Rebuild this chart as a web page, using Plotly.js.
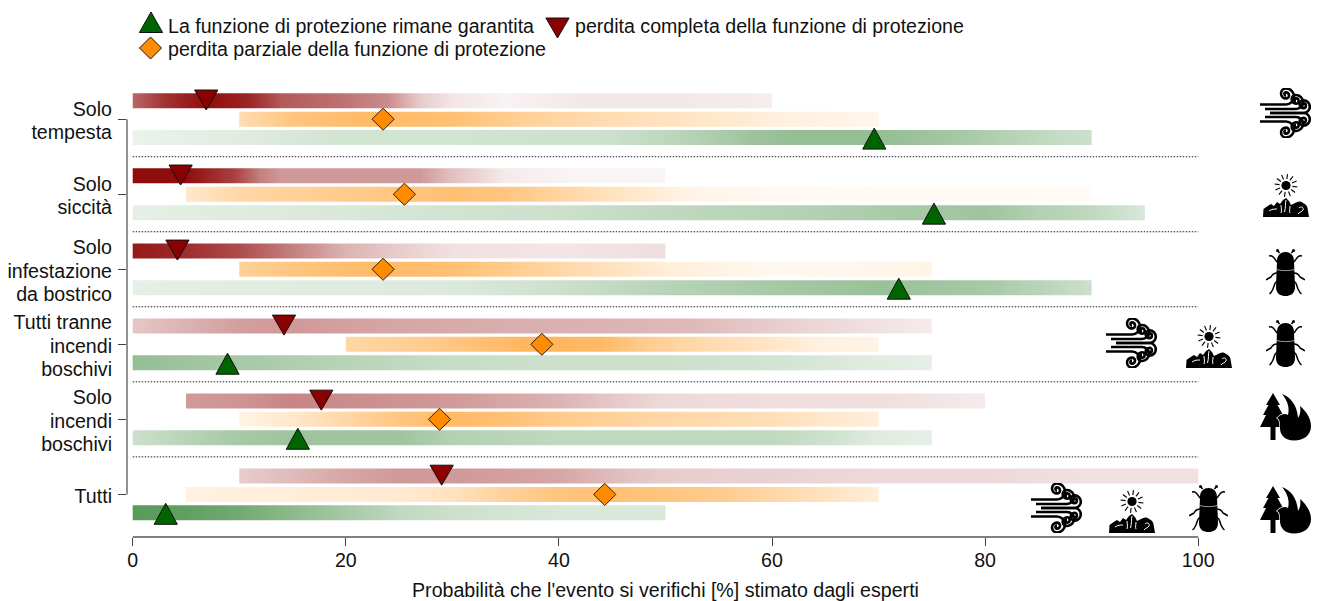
<!DOCTYPE html>
<html>
<head>
<meta charset="utf-8">
<script src="https://cdn.plot.ly/plotly-3.0.1.min.js"></script>
<style>html,body{margin:0;padding:0;background:#fff}</style>
</head>
<body>
<div id="chart" style="width:1318px;height:601px"></div>
<script>
// ---- data, top to bottom ----
const groupLabels = ['Solo<br>tempesta', 'Solo<br>siccità', 'Solo<br>infestazione<br>da bostrico',
  'Tutti tranne<br>incendi<br>boschivi', 'Solo<br>incendi<br>boschivi', 'Tutti'];
const xTicks = [0, 20, 40, 60, 80, 100];
const legendLabels = ['La funzione di protezione rimane garantita', 'perdita completa della funzione di protezione', 'perdita parziale della funzione di protezione'];
const xTitle = "Probabilità che l'evento si verifichi [%] stimato dagli esperti";

const lossMedian = [6.9, 4.5, 4.2, 14.2, 17.7, 29];
const partialMedian = [23.5, 25.5, 23.5, 38.4, 28.8, 44.3];
const keptMedian = [69.6, 75.2, 71.9, 8.9, 15.5, 3.1];

// density along each range: position on the axis
const lossX = [
  [0, 3, 7, 11, 14, 20, 24, 27, 30, 35, 43, 50, 60],
  [0, 5, 9.5, 12, 14, 27, 30, 35, 42, 50],
  [0, 4, 10, 15, 20, 25, 30, 40, 50],
  [0, 5, 10, 15, 25, 35, 45, 53, 62, 72, 75],
  [5, 10, 15, 20, 30, 35, 40, 46, 50, 60, 70, 80],
  [10, 15, 20, 25, 30, 35, 40, 46, 50, 60, 70, 80, 90, 100]];
// and how strongly it shows there
const lossD = [
  [.6, .8, .95, .85, .65, .55, .45, .2, .1, .05, .1, .1, .07],
  [.95, .95, .75, .5, .4, .4, .25, .08, .04, .04],
  [.9, .85, .7, .5, .3, .2, .12, .1, .13],
  [.22, .3, .38, .4, .35, .32, .3, .27, .18, .1, .08],
  [.4, .42, .48, .45, .4, .35, .3, .2, .15, .13, .13, .08],
  [.2, .27, .35, .4, .4, .38, .35, .25, .2, .18, .15, .15, .12, .12]];
const partialX = [
  [10, 15, 22, 30, 37, 45, 55, 62, 70],
  [5, 10, 20, 30, 35, 45, 52, 60, 90],
  [10, 15, 23, 30, 40, 50, 60, 70, 75],
  [20, 28, 33, 38, 44, 48, 52, 58, 65, 70],
  [10, 15, 20, 25, 30, 35, 40, 50, 60, 65, 70],
  [5, 15, 25, 30, 35, 40, 45, 50, 55, 60, 65, 70]];
const partialD = [
  [.3, .5, .6, .55, .4, .3, .2, .12, .08],
  [.2, .35, .45, .55, .5, .25, .1, .05, .04],
  [.4, .5, .6, .55, .35, .15, .06, .08, .1],
  [.35, .45, .55, .65, .6, .45, .35, .25, .12, .1],
  [.1, .2, .35, .5, .6, .55, .45, .35, .28, .2, .15],
  [.12, .15, .18, .25, .4, .5, .55, .5, .45, .35, .25, .15]];
const keptX = [
  [0, 10, 20, 30, 45, 52, 58, 62, 70, 78, 85, 90],
  [0, 20, 30, 40, 50, 60, 70, 80, 85, 90, 95],
  [0, 30, 40, 50, 60, 70, 80, 87, 90],
  [0, 5, 10, 20, 30, 40, 50, 60, 70, 75],
  [0, 5, 10, 15, 20, 25, 30, 40, 50, 60, 65, 70, 75],
  [0, 5, 10, 15, 20, 25, 30, 40, 50]];
const keptD = [
  [.08, .12, .18, .18, .2, .28, .38, .42, .42, .35, .25, .2],
  [.1, .15, .18, .2, .25, .28, .33, .38, .3, .25, .15],
  [.1, .14, .2, .28, .35, .4, .35, .25, .2],
  [.42, .38, .35, .28, .22, .2, .2, .18, .12, .1],
  [.2, .28, .35, .38, .38, .38, .3, .25, .25, .25, .2, .12, .1],
  [.65, .62, .55, .45, .35, .25, .2, .15, .15]];

// ---- layout constants (pixels in the 1318x601 page) ----
const W = 1318, H = 601;
const X0PX = 132.7, PX_PER_X = 10.655, PLOT_RIGHT = 1204, AXIS_Y = 537, TOP = 85, Y_AXIS_PX = 127;
const ROW1PX = 119.2, ROW6PX = 494.4, LINE_PX = 23.5, LABEL_NUDGE_PX = 1.5;
const pxPerX = PX_PER_X;
const pxPerY = (ROW6PX - ROW1PX) / 5;
const mL = Y_AXIS_PX, mR = W - PLOT_RIGHT, mB = H - AXIS_Y, mT = TOP;
const plotW = W - mL - mR, plotH = H - mT - mB;
const yOf = i => 6 - i;                       // row index -> axis position
const OFFSET = 18.4 / pxPerY, BAR_H = 15 / pxPerY;
const COLORS = {loss: '139,0,0', partial: '255,140,0', kept: '0,100,0'};
const SOLID = {loss: '#8b0000', partial: '#ff8c00', kept: '#006400'};
const TEXT = 'Liberation Sans, Arial, sans-serif';
const FS = 19.6;

const paperX = px => (px - mL) / plotW;
const paperY = py => (H - mB - py) / plotH;

// ---- gradient bars ----
function bar(xs, ds, yc, rgb) {
  const a = xs[0], b = xs[xs.length - 1];
  return {
    type: 'scatter', mode: 'none', fill: 'toself', hoverinfo: 'skip',
    x: [a, b, b, a, a],
    y: [yc - BAR_H / 2, yc - BAR_H / 2, yc + BAR_H / 2, yc + BAR_H / 2, yc - BAR_H / 2],
    fillgradient: {
      type: 'horizontal', start: a, stop: b,
      colorscale: xs.map((x, k) => [(x - a) / (b - a), 'rgba(' + rgb + ',' + ds[k] + ')'])
    }
  };
}
const traces = [];
groupLabels.forEach((_, i) => {
  traces.push(bar(lossX[i], lossD[i], yOf(i) + OFFSET, COLORS.loss));
  traces.push(bar(partialX[i], partialD[i], yOf(i), COLORS.partial));
  traces.push(bar(keptX[i], keptD[i], yOf(i) - OFFSET, COLORS.kept));
});

// ---- median markers: R-style equilateral triangles, sized in px around the data value ----
function triangles(meds, dir, rowOffset, rgbSolid) {
  const xs = [], ys = [], hw = 11.6 / pxPerX;
  meds.forEach((m, i) => {
    const yc = yOf(i) + rowOffset;
    const base = dir > 0 ? yc - 11.5 / pxPerY : yc + 10.8 / pxPerY;
    const apex = dir > 0 ? yc + 9.5 / pxPerY : yc - 9.2 / pxPerY;
    xs.push(m - hw, m + hw, m, m - hw, null);
    ys.push(base, base, apex, base, null);
  });
  return {type: 'scatter', mode: 'lines', fill: 'toself', fillcolor: rgbSolid, hoverinfo: 'skip',
    line: {color: '#111', width: 1}, x: xs, y: ys};
}
traces.push(triangles(lossMedian, -1, OFFSET, SOLID.loss));
traces.push(triangles(keptMedian, 1, -OFFSET, SOLID.kept));
traces.push({type: 'scatter', mode: 'markers', hoverinfo: 'skip',
  x: partialMedian, y: groupLabels.map((_, i) => yOf(i)),
  marker: {symbol: 'diamond', size: 17, color: SOLID.partial, line: {color: '#222', width: 1}}});

// ---- shapes: axis lines, separators, legend glyphs ----
const shapes = [];
[5.5, 4.5, 3.5, 2.5, 1.5].forEach(y => shapes.push({type: 'line', xref: 'x', yref: 'y', x0: 0, x1: 100, y0: y, y1: y,
  line: {color: '#222', width: 1, dash: '1.5px,1.5px'}, layer: 'below'}));
shapes.push({type: 'line', xref: 'x', yref: 'paper', x0: 0, x1: 100, y0: 0, y1: 0, line: {color: '#808080', width: 2}});
shapes.push({type: 'line', xref: 'paper', yref: 'y', x0: 0, x1: 0, y0: 1, y1: 6, line: {color: '#6e6e6e', width: 1.5}});
function legendGlyph(px, py, path, fill) {
  shapes.push({type: 'path', xref: 'paper', yref: 'paper', xsizemode: 'pixel', ysizemode: 'pixel',
    xanchor: paperX(px), yanchor: paperY(py), path, fillcolor: fill, line: {color: '#111', width: 1}});
}
// pixel-sized shape paths count y upward
legendGlyph(151, 22, 'M-11.6,-10.5 H11.6 L0,10 Z', SOLID.kept);
legendGlyph(557.5, 28, 'M-11.6,10 H11.6 L0,-10 Z', SOLID.loss);
legendGlyph(150.5, 48, 'M-11,0 L0,-11 L11,0 L0,11 Z', SOLID.partial);

// ---- annotations: manual legend text ----
const annotations = [[167, 26, 0], [574, 26, 1], [167, 49.5, 2]].map(([px, py, k]) => ({
  xref: 'paper', yref: 'paper', x: paperX(px), y: paperY(py), xanchor: 'left', yanchor: 'middle',
  text: legendLabels[k], showarrow: false, font: {family: TEXT, size: FS, color: '#111'}, xshift: 0, borderpad: 0, align: 'left'
}));

// ---- pictograms ----
function curl(x, y, r, up) {
  const s = up ? -1 : 1, sw = up ? 0 : 1;
  let d = '', yy = y, rr = r, dir = s;
  for (const k of [1, .62, .38, .2]) {
    rr = r * k; yy += dir * 2 * rr;
    d += ' A' + rr + ',' + rr + ' 0 0 ' + sw + ' ' + x + ',' + yy;
    dir = -dir;
  }
  return d;
}
const svgWrap = (w, h, body) => 'data:image/svg+xml;charset=utf-8,' + encodeURIComponent(
  '<svg xmlns="http://www.w3.org/2000/svg" width="' + w + '" height="' + h + '" viewBox="0 0 ' + w + ' ' + h + '">' + body + '</svg>');

const windSvg = svgWrap(51, 50, '<g fill="none" stroke="#000" stroke-width="2.6">' +
  '<path d="M0,16.5 H26' + curl(26, 16.5, 8, true) + '"/>' +
  '<path d="M5,21 H36' + curl(36, 21, 7, true) + '"/>' +
  '<path d="M10,25 H43.5' + curl(43.5, 25, 6.3, true) + '"/>' +
  '<path d="M10,25 H43.5' + curl(43.5, 25, 6.3, false) + '"/>' +
  '<path d="M5,29 H36' + curl(36, 29, 7, false) + '"/>' +
  '<path d="M0,33.5 H26' + curl(26, 33.5, 8, false) + '"/></g>');

let rays = '';
for (let a = 0; a < 12; a++) {
  const t = a * Math.PI / 6 + .13;
  rays += '<line x1="' + (23 + 6.5 * Math.cos(t)) + '" y1="' + (11.5 + 6.5 * Math.sin(t)) + '" x2="' + (23 + 11.5 * Math.cos(t)) + '" y2="' + (11.5 + 11.5 * Math.sin(t)) + '"/>';
}
const droughtSvg = svgWrap(46, 43, '<circle cx="23" cy="11.5" r="4.6" fill="#000"/><g stroke="#000" stroke-width="1.1">' + rays + '</g>' +
  '<path fill="#000" d="M0,43 L0.5,35 C3,33 5,32 8,30 L11,32 L14,28 L17,30 L20,26 L23,24 L26,27 L28,31 L32,29 C35,27 38,27 40,29 C43,30 44,32 44.5,34 L46,43 Z"/>' +
  '<g fill="none" stroke="#fff" stroke-width="1"><path d="M23,26 C22,30 23,33 21.5,38"/><path d="M18,31 C18,34 19,36 18,39"/><path d="M27,32 C27,35 26,37 27,39"/><path d="M6,37 C9,35 11,35 14,35"/><path d="M36,34 C38,32 41,33 40,36 C39,38 36,38 35,40"/></g>');

const beetleSvg = svgWrap(39, 47, '<path fill="#000" d="M11,12 C11,6 15,3 19.5,3 C24,3 28,6 28,12 L29,38 C29,45 24,47 19.5,47 C15,47 10,45 10,38 Z"/>' +
  '<path d="M10.5,20.5 C15,22 24,22 28.5,20.5" stroke="#fff" stroke-width=".6" fill="none"/>' +
  '<g fill="none" stroke="#000" stroke-width="1.5">' +
  '<path d="M11,13 C8,9 7,6 3,7"/><path d="M28,13 C31,9 32,6 36,7"/>' +
  '<path d="M11,24 C8,24 6,26 5,28 C3,29 1,30 0,31"/><path d="M28,24 C31,24 33,26 34,28 C36,29 38,30 39,31"/>' +
  '<path d="M11,32 C8,34 8,38 7,40 C6,42 5,44 3.5,45"/><path d="M28,32 C31,34 31,38 32,40 C33,42 34,44 35.5,45"/>' +
  '<path d="M13.5,4 L12,2"/><path d="M25.5,4 L27,2"/></g>' +
  '<circle cx="11.5" cy="1.6" r="1.5" fill="#000"/><circle cx="27.5" cy="1.6" r="1.5" fill="#000"/>');

const fireSvg = svgWrap(51, 48, '<path fill="#000" d="M13,0 L20,12 L17.5,12 L23,22 L20,22 L26,34 L15.5,34 L15.5,47 L10.5,47 L10.5,34 L0,34 L6,22 L3,22 L8.5,12 L6,12 Z"/>' +
  '<path fill="#000" stroke="#fff" stroke-width="1.2" paint-order="stroke" d="M22,1 C30,4 37,11 38,25 C40,22 41,18 40,13 C47,19 51,26 51,33 C51,42 44,47.5 34,47.5 C25,47.5 20,42 20,35 C20,30 20,26 17,25 C21,21 25,20 28,22 C30,14 27,7 22,1 Z"/>');

const icons = [
  [windSvg, 51, 50, 1260, 88],
  [droughtSvg, 46, 43, 1263, 174],
  [beetleSvg, 39, 47, 1266, 249],
  [windSvg, 51, 50, 1106, 318],
  [droughtSvg, 46, 43, 1186, 325],
  [beetleSvg, 39, 47, 1266, 320],
  [fireSvg, 51, 48, 1260, 393],
  [windSvg, 51, 50, 1031, 483],
  [droughtSvg, 46, 43, 1109, 490],
  [beetleSvg, 39, 47, 1189, 485],
  [fireSvg, 51, 48, 1260, 486]
];
const images = icons.map(([source, w, h, px, py]) => ({
  source, xref: 'paper', yref: 'paper', x: paperX(px), y: paperY(py),
  sizex: w / plotW, sizey: h / plotH, xanchor: 'left', yanchor: 'top', sizing: 'stretch', layer: 'above'
}));

// ---- y labels: each line is its own tick label so the line spacing can match ----
const labelVals = [], labelText = [];
groupLabels.forEach((g, i) => {
  const lines = g.split('<br>');
  lines.forEach((t, k) => {
    labelVals.push(yOf(i) + (((lines.length - 1) / 2 - k) * LINE_PX - LABEL_NUDGE_PX) / pxPerY);
    labelText.push(t);
  });
});

// ---- layout ----
const layout = {
  width: W, height: H, paper_bgcolor: '#fff', plot_bgcolor: '#fff', showlegend: false, hovermode: false,
  margin: {l: mL, r: mR, t: mT, b: mB, pad: 0},
  xaxis: {
    range: [(Y_AXIS_PX - X0PX) / pxPerX, (PLOT_RIGHT - X0PX) / pxPerX], showgrid: false, zeroline: false, showline: false,
    tickmode: 'array', tickvals: xTicks, ticktext: xTicks.map(String), ticks: 'outside', ticklen: 8, tickwidth: 1, tickcolor: '#444',
    ticklabelstandoff: -3,
    tickfont: {family: TEXT, size: FS, color: '#111'},
    title: {text: xTitle, font: {family: TEXT, size: FS, color: '#111'}, standoff: 13}
  },
  yaxis: {
    range: [1 - (AXIS_Y - ROW6PX) / pxPerY, 6 + (ROW1PX - TOP) / pxPerY], showgrid: false, zeroline: false, showline: false,
    tickmode: 'array', tickvals: labelVals, ticktext: labelText, ticks: '', ticklabelstandoff: 14,
    tickfont: {family: TEXT, size: FS, color: '#111'},
    minor: {tickmode: 'array', tickvals: groupLabels.map((_, i) => yOf(i)), ticks: 'outside', ticklen: 8, tickwidth: 1, tickcolor: '#444', showgrid: false}
  },
  shapes, annotations, images
};
Plotly.newPlot('chart', traces, layout, {displayModeBar: false, responsive: false});
</script>
</body>
</html>
